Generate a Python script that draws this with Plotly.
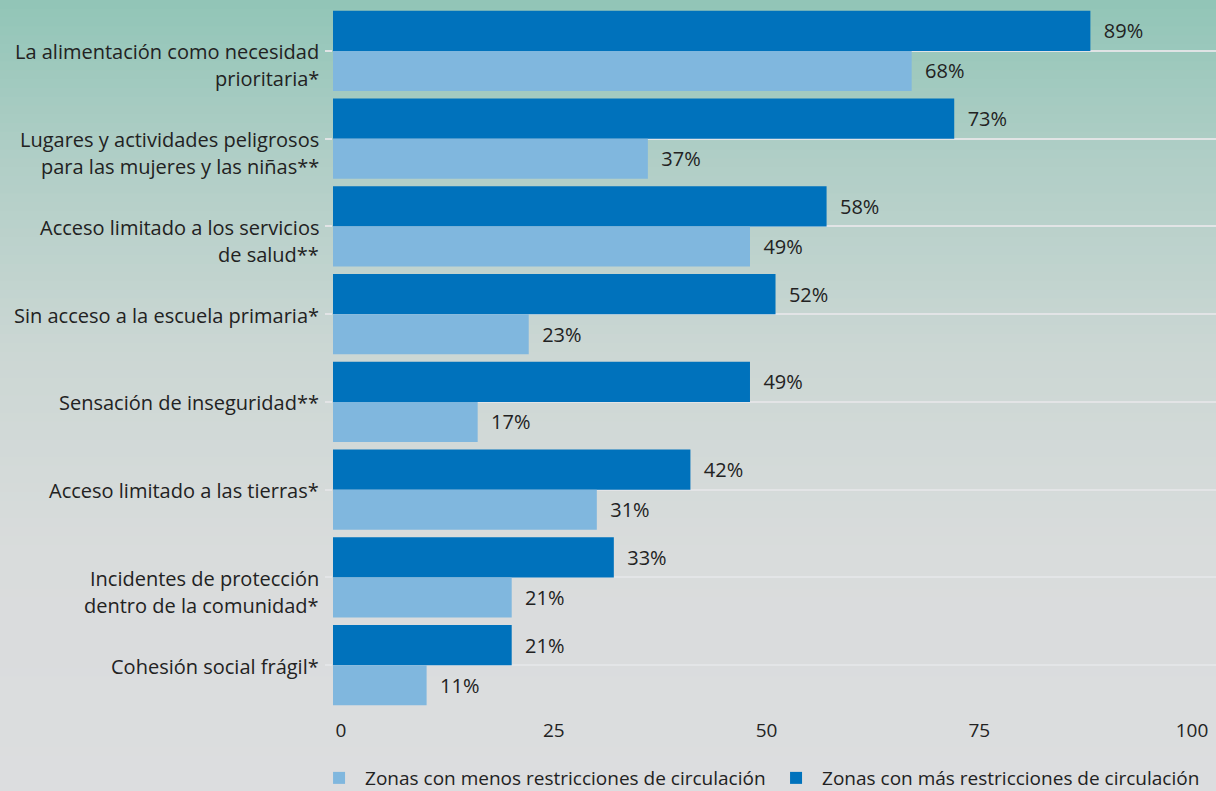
import plotly.graph_objects as go

categories = [
    "La alimentación como necesidad<br>prioritaria*",
    "Lugares y actividades peligrosos<br>para las mujeres y las niñas**",
    "Acceso limitado a los servicios<br>de salud**",
    "Sin acceso a la escuela primaria*",
    "Sensación de inseguridad**",
    "Acceso limitado a las tierras*",
    "Incidentes de protección<br>dentro de la comunidad*",
    "Cohesión social frágil*",
]
mas_restricciones = [89, 73, 58, 52, 49, 42, 33, 21]
menos_restricciones = [68, 37, 49, 23, 17, 31, 21, 11]
x_ticks = [0, 25, 50, 75, 100]
name_mas = "Zonas con más restricciones de circulación"
name_menos = "Zonas con menos restricciones de circulación"

FONT = "Open Sans"
TXT = "#222222"
DARK = "#0072BC"
LIGHT = "#80B7DE"

W, H = 1216, 791
ML, MR, MT, MB = 333, 0, 7, 82
plot_w = W - ML - MR
plot_h = H - MT - MB
x_max = 100 * plot_w / 851.0

fig = go.Figure()
fig.add_trace(go.Bar(
    y=categories, x=mas_restricciones, orientation="h", name=name_mas,
    marker=dict(color=DARK, line=dict(width=0)),
    texttemplate="\u00a0\u00a0%{x}%", textposition="outside",
    textfont=dict(family=FONT, size=20, color=TXT), cliponaxis=False,
    legendrank=2, hoverinfo="skip",
))
fig.add_trace(go.Bar(
    y=categories, x=menos_restricciones, orientation="h", name=name_menos,
    marker=dict(color=LIGHT, line=dict(width=0)),
    texttemplate="\u00a0\u00a0%{x}%", textposition="outside",
    textfont=dict(family=FONT, size=20, color=TXT), cliponaxis=False,
    legendrank=1, hoverinfo="skip",
))

# gradient background
stops = [
    (0.00, (145, 197, 183)),
    (0.20, (176, 206, 198)),
    (0.45, (204, 215, 212)),
    (0.70, (217, 220, 220)),
    (1.00, (220, 221, 223)),
]
def col_at(t):
    for (t0, c0), (t1, c1) in zip(stops[:-1], stops[1:]):
        if t <= t1:
            f = (t - t0) / (t1 - t0) if t1 > t0 else 0
            return tuple(round(a + (b - a) * f) for a, b in zip(c0, c1))
    return stops[-1][1]

N = 90
shapes = []
for i in range(N):
    top_px = H * i / N
    bot_px = H * (i + 1) / N + 1
    y1 = 1 + (MT - top_px) / plot_h
    y0 = 1 + (MT - bot_px) / plot_h
    r, g, b = col_at((i + 0.5) / N)
    shapes.append(dict(type="rect", xref="paper", yref="paper",
                       x0=-ML / plot_w - 0.01, x1=1.01, y0=y0, y1=y1,
                       fillcolor=f"rgb({r},{g},{b})", line=dict(width=0),
                       layer="below"))

# category labels (first line aligned to category centre)
annotations = []
LINE = 27
for cat in categories:
    for j, line in enumerate(cat.split("<br>")):
        annotations.append(dict(
            xref="paper", yref="y", x=0, y=cat, xanchor="right", yanchor="middle",
            xshift=-12, yshift=-LINE * j - 1, text=line, showarrow=False,
            font=dict(family=FONT, size=20, color=TXT), align="right",
        ))

fig.update_layout(
    width=W, height=H,
    margin=dict(l=ML, r=MR, t=MT, b=MB, pad=0, autoexpand=False),
    paper_bgcolor="rgb(220,221,223)",
    plot_bgcolor="rgba(0,0,0,0)",
    barmode="group", bargap=0.088, bargroupgap=0,
    font=dict(family=FONT, size=20, color=TXT),
    shapes=shapes,
    annotations=annotations,
    showlegend=True,
    legend=dict(orientation="h", x=-0.0226, xanchor="left", y=-0.1254, yanchor="bottom",
                font=dict(family=FONT, size=19, color=TXT),
                bgcolor="rgba(0,0,0,0)", entrywidth=400, entrywidthmode="pixels",
                itemwidth=42, itemclick=False),
)
fig.update_xaxes(range=[0, x_max], tickvals=x_ticks, showgrid=False, zeroline=False,
                 showline=False, ticks="", tickfont=dict(family=FONT, size=19, color=TXT),
                 ticklabelstandoff=8, ticklabelshift=8, fixedrange=True)
fig.update_yaxes(autorange="reversed", showgrid=True, gridcolor="rgba(228,229,231,0.95)",
                 gridwidth=1.5, showticklabels=False, ticks="outside", ticklen=7,
                 tickcolor="rgba(228,229,231,0.95)", tickwidth=1.5,
                 showline=False, zeroline=False, fixedrange=True)

fig.write_html("out.html", config={"displayModeBar": False},
               post_script="document.body.style.margin='0';document.body.style.overflow='hidden';")
